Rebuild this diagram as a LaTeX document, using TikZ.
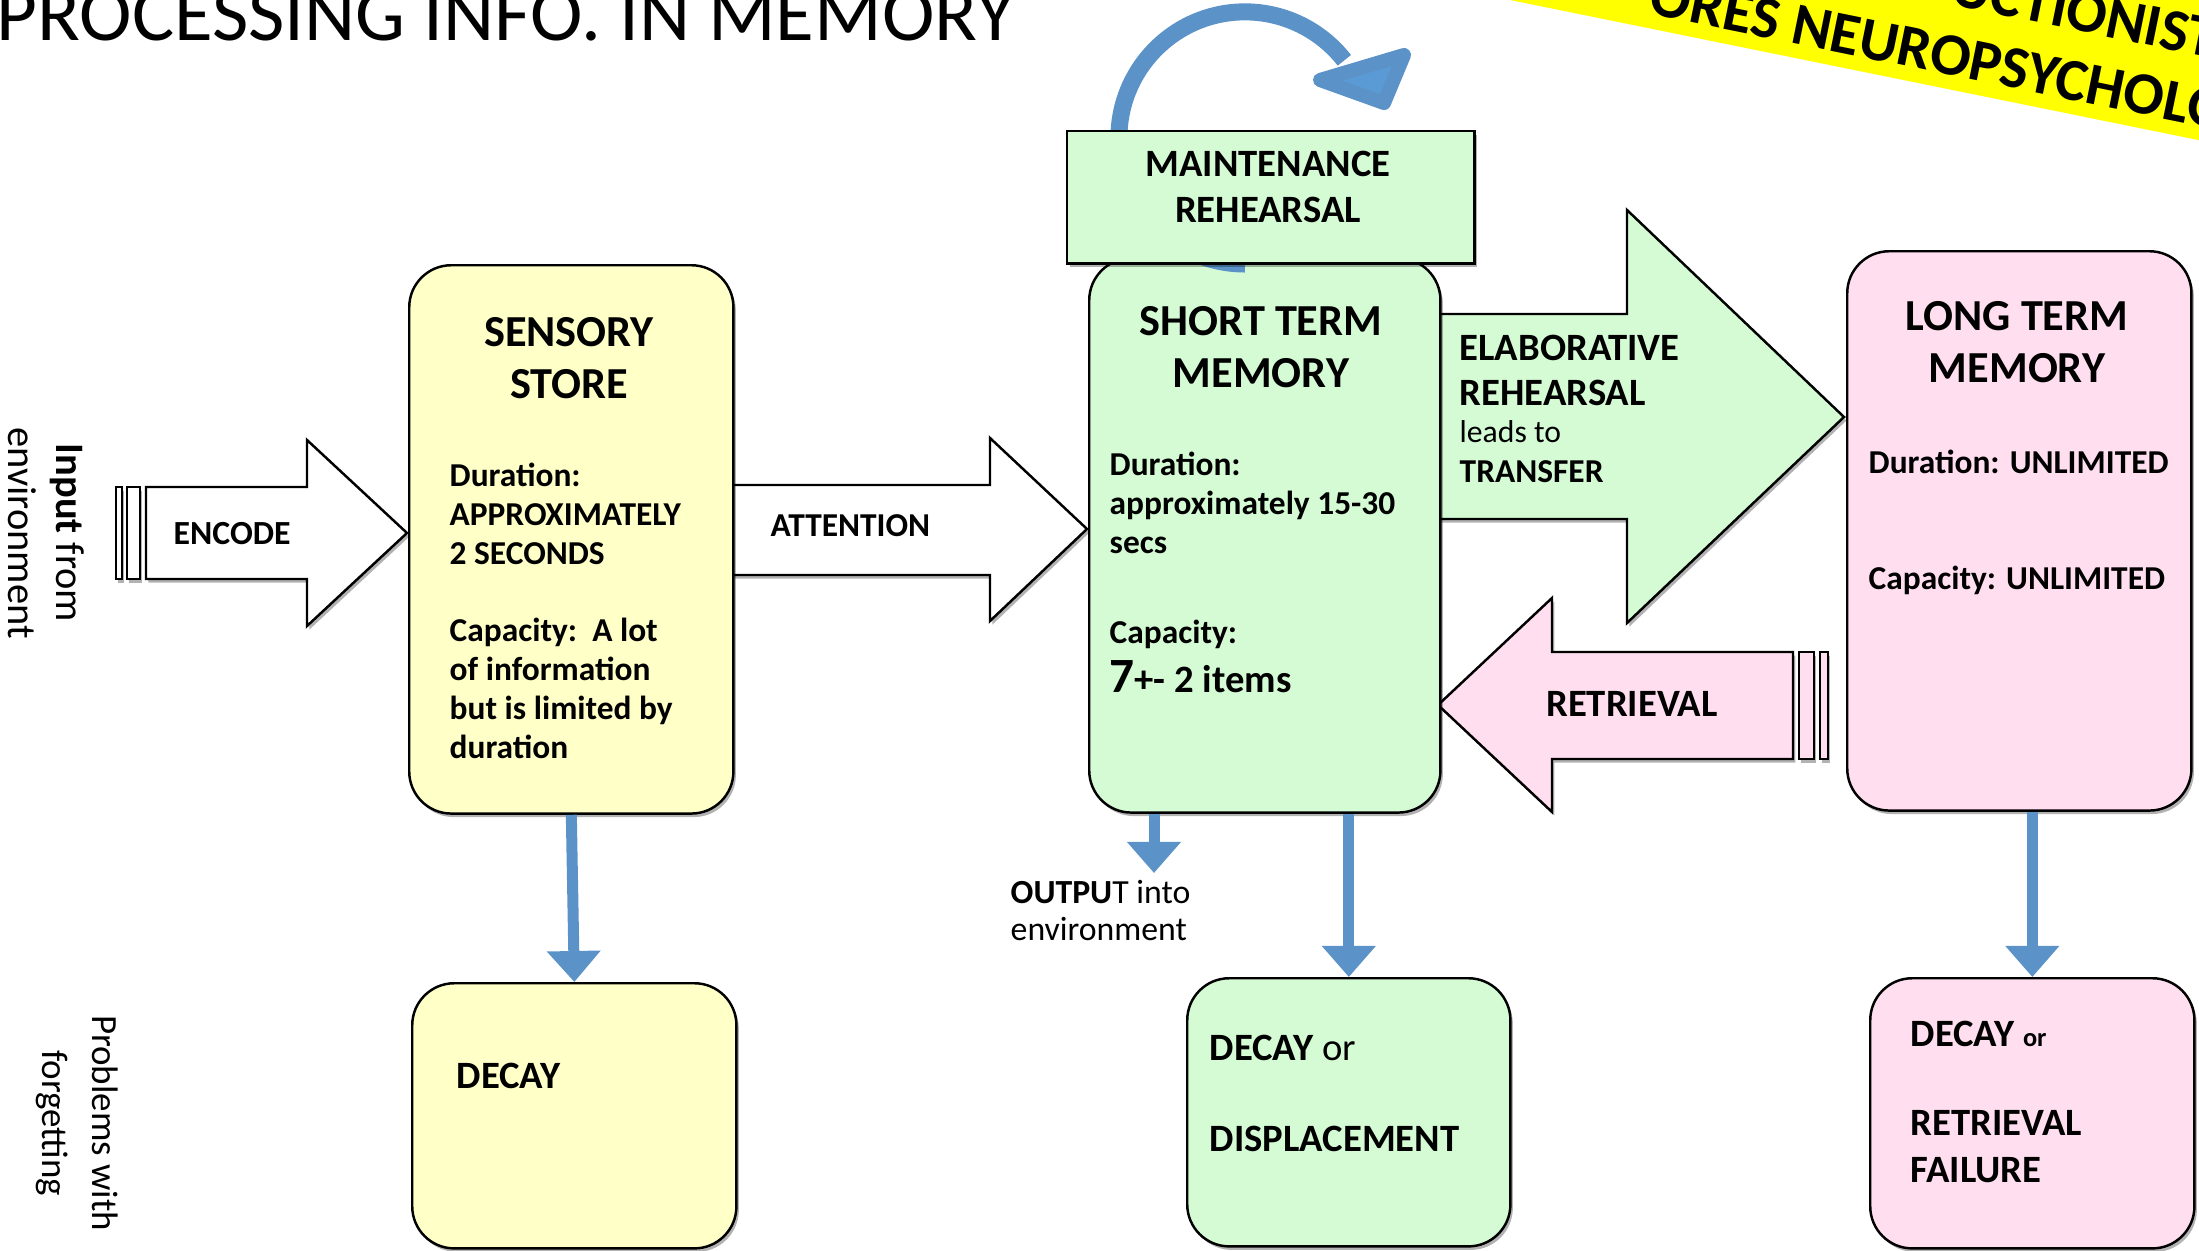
\documentclass[tikz,border=0pt]{standalone}
\usepackage{fontspec}
\setmainfont{Carlito}
\usetikzlibrary{arrows.meta,shadows}
\definecolor{yfill}{HTML}{FFFFC8}
\definecolor{gfill}{HTML}{D5FBD5}
\definecolor{pfill}{HTML}{FFDFEF}
\definecolor{bluearr}{HTML}{5B93C9}
\definecolor{bluehead}{HTML}{5B9BD5}
\definecolor{banneryellow}{HTML}{FFFF00}
\newcommand{\ttlfont}{\fontsize{12.6}{14.8}\selectfont\bfseries}
\newcommand{\bdyfont}{\fontsize{9.5}{11.1}\selectfont\bfseries}
\newcommand{\lblfont}{\fontsize{11}{12.8}\selectfont\bfseries}
\begin{document}
\begin{tikzpicture}[x=0.01cm,y=-0.01cm,
  myshadow/.style={drop shadow={shadow xshift=0.7pt,shadow yshift=-1pt,opacity=0.3,fill=black}},
  membox/.style={draw=black, line width=0.7pt, rounded corners=0.42cm, inner sep=0pt, anchor=north west, myshadow},
  blk/.style={draw=black, line width=0.7pt, line join=miter, myshadow},
  bluedown/.style={draw=bluearr, line width=0.11cm, -{Triangle[width=0.52cm,length=0.31cm]}},
  txt/.style={inner sep=0pt, anchor=base west},
]
\useasboundingbox (0,0) rectangle (2199,1251);
\clip (0,0) rectangle (2199,1251);

% title
\node[txt, font=\fontsize{22.5}{26}\selectfont] (title) at (-4,40) {PROCESSING INFO. IN MEMORY};

% banner
\begin{scope}[rotate around={-11.5:(1874,72)}, transform shape]
  \fill[banneryellow] (1300,74) -- (2800,74) -- (2800,-500) -- (1300,-500) -- cycle;
  \node[txt, font=\fontsize{17}{20}\selectfont\bfseries] (ban2) at (1640,60) {ORES NEUROPSYCHOLO};
  \node[txt, font=\fontsize{17}{20}\selectfont\bfseries] (ban1) at (1934,-9) {UCTIONIST};
\end{scope}

% side labels
\node[rotate=-90, align=center, inner sep=0pt, font=\fontsize{11.5}{13.7}\selectfont] (inp) at (46,533) {\textbf{Input} from\\environment};
\node[rotate=-90, align=center, inner sep=0pt, font=\fontsize{10.5}{14.2}\selectfont] (prob) at (77,1123) {Problems with\\forgetting};

% block arrows
\path[blk, fill=white] (146,487) -- (307,487) -- (307,440) -- (407,533) -- (307,626) -- (307,579) -- (146,579) -- cycle;
\path[blk, fill=white] (116,487) rectangle (122,579);
\path[blk, fill=white] (127,487) rectangle (140,579);
\path[blk, fill=white] (732,485) -- (990,485) -- (990,438) -- (1087,529) -- (990,621) -- (990,575) -- (732,575) -- cycle;
\path[blk, fill=gfill] (1439,314) -- (1627,314) -- (1627,210) -- (1844,417) -- (1627,623) -- (1627,519) -- (1439,519) -- cycle;
\path[blk, fill=pfill] (1438,705) -- (1552,598) -- (1552,652) -- (1793,652) -- (1793,759) -- (1552,759) -- (1552,812) -- cycle;
\path[blk, fill=pfill] (1799,652) rectangle (1814,759);
\path[blk, fill=pfill] (1820,652) rectangle (1828,759);

% memory boxes
\node[membox, fill=yfill, minimum width=3.24cm, minimum height=5.48cm] (ss) at (408,264) {};
\node[membox, fill=gfill, minimum width=3.51cm, minimum height=5.54cm] (stm) at (1088,257) {};
\node[membox, fill=pfill, minimum width=3.44cm, minimum height=5.59cm] (ltm) at (1846,250) {};

% forgetting boxes
\node[membox, fill=yfill, minimum width=3.24cm, minimum height=2.65cm] (d1) at (411,982) {};
\node[membox, fill=gfill, minimum width=3.23cm, minimum height=2.68cm] (d2) at (1186,977) {};
\node[membox, fill=pfill, minimum width=3.24cm, minimum height=2.70cm] (d3) at (1869,977) {};

% maintenance loop
\draw[draw=bluearr, line width=0.17cm] (1245,264) arc[start angle=-90, end angle=-322, radius=1.26cm];
\filldraw[fill=bluehead, draw=bluearr, line width=4pt, line join=round] (1320,80) -- (1404,55) -- (1384,103) -- cycle;
\node[draw=black, line width=0.7pt, fill=gfill, anchor=north west, minimum width=4.07cm, minimum height=1.32cm, inner sep=0pt, myshadow] (mr) at (1066,130) {};
\node[anchor=north, align=center, inner sep=0pt, font=\fontsize{11}{13.1}\selectfont\bfseries] (mrt) at (1268,150) {MAINTENANCE\\REHEARSAL};

% blue arrows
\coordinate (outtip) at (1154,873);
\draw[bluedown] (ss.south) -- (d1.north);
\draw[bluedown] (stm.south -| outtip) -- (outtip);
\draw[bluedown] (stm.south -| d2.north) -- (d2.north);
\draw[bluedown] (ltm.south -| d3.north) -- (d3.north);

% arrow labels
\node[txt, font=\fontsize{9.6}{11}\selectfont\bfseries] (enc) at (173,544) {ENCODE};
\node[txt, font=\fontsize{9.5}{11}\selectfont\bfseries] (att) at (770,536) {ATTENTION};
\node[anchor=north west, align=left, inner sep=0pt, font=\lblfont] (elab) at (1459,334) {ELABORATIVE\\REHEARSAL};
\node[txt, font=\fontsize{9}{11}\selectfont] (leads) at (1459,442) {leads to};
\node[txt, font=\bdyfont] (trans) at (1459,482) {TRANSFER};
\node[inner sep=0pt, anchor=base, font=\lblfont] (retr) at (1632,716) {RETRIEVAL};
\node[txt, font=\fontsize{9.6}{11}\selectfont] (out1) at (1010,903) {\textbf{OUTPU}T into};
\node[txt, font=\fontsize{9.6}{11}\selectfont] (out2) at (1010,940) {environment};

% sensory text
\node[anchor=north, align=center, inner sep=0pt, font=\ttlfont] (sst) at (569,317) {SENSORY\\STORE};
\node[anchor=north west, align=left, inner sep=0pt, font=\bdyfont] (ssd) at (449,462) {Duration:\\APPROXIMATELY\\2 SECONDS};
\node[anchor=north west, align=left, inner sep=0pt, font=\bdyfont] (ssc) at (449,617) {Capacity:\ \ A lot\\of information\\but is limited by\\duration};

% STM text
\node[anchor=north, align=center, inner sep=0pt, font=\ttlfont] (stmt) at (1261,306) {SHORT TERM\\MEMORY};
\node[anchor=north west, align=left, inner sep=0pt, font=\bdyfont] (stmd) at (1109,451) {Duration:\\approximately 15-30\\secs};
\node[txt, font=\bdyfont] (stmc) at (1109,643) {Capacity:};
\node[txt, font=\fontsize{11}{13}\selectfont\bfseries] (stm7) at (1109,692) {{\fontsize{14}{16}\selectfont 7}+- 2 items};

% LTM text
\node[anchor=north, align=center, inner sep=0pt, font=\ttlfont] (ltmt) at (2017,301) {LONG TERM\\MEMORY};
\node[txt, font=\bdyfont] (ltmd) at (1868,473) {Duration: UNLIMITED};
\node[txt, font=\bdyfont] (ltmc) at (1868,589) {Capacity: UNLIMITED};

% forgetting text
\node[txt, font=\lblfont] (d1t) at (456,1088) {DECAY};
\node[txt, font=\lblfont] (d2a) at (1209,1060) {DECAY \mdseries or};
\node[txt, font=\lblfont] (d2b) at (1209,1151) {DISPLACEMENT};
\node[txt, font=\lblfont] (d3a) at (1910,1046) {DECAY {\fontsize{7.5}{9}\selectfont or}};
\node[txt, font=\lblfont] (d3b) at (1910,1135) {RETRIEVAL};
\node[txt, font=\lblfont] (d3c) at (1910,1182) {FAILURE};
\end{tikzpicture}
\end{document}
